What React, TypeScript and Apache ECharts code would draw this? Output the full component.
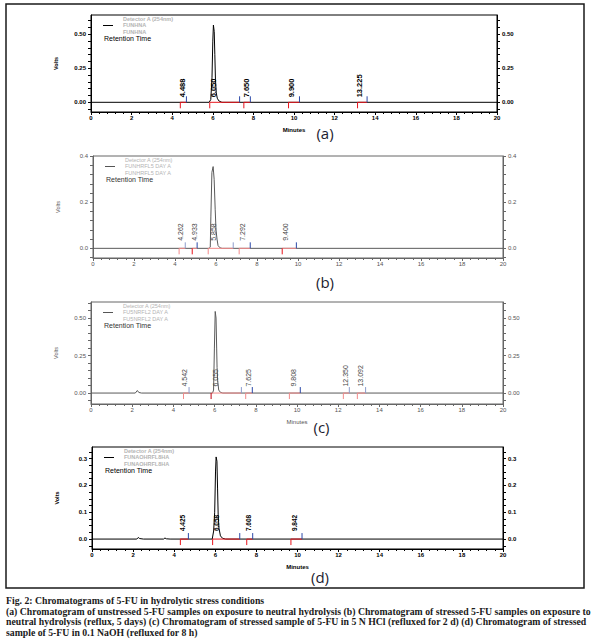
import React, { useEffect, useRef } from "react";
import * as echarts from "echarts";

// ---------------- Panel (a): unstressed, neutral hydrolysis ----------------
const A_TIME = [0, 5.82, 5.9, 5.96, 6.0, 6.03, 6.07, 6.1, 6.13, 6.17, 6.22, 6.3, 6.45, 20];
const A_SIGNAL = [0, 0, 0.02, 0.18, 0.45, 0.568, 0.52, 0.35, 0.17, 0.07, 0.03, 0.01, 0, 0];
const A_PEAK_RT = [4.488, 6.05, 7.65, 9.9, 13.225];
const A_PEAK_LABEL = ["4.488", "6.050", "7.650", "9.900", "13.225"];
const A_PEAK_START = [4.4, 5.85, 7.53, 9.73, 13.13];
const A_PEAK_END = [4.7, 7.32, 7.85, 10.27, 13.6];
const A_Y_LABELS = [0, 0.25, 0.5];
const A_Y_TICKS = [-0.05, 0, 0.05, 0.1, 0.15, 0.2, 0.25, 0.3, 0.35, 0.4, 0.45, 0.5, 0.55, 0.6];
const A_LEGEND = ["Detector A (254nm)", "FUNHNA", "FUNHNA"];

// ---------------- Panel (b): neutral hydrolysis, reflux 5 days ----------------
const B_TIME = [0, 5.66, 5.72, 5.75, 5.8, 5.86, 5.91, 5.96, 6.0, 6.05, 6.1, 6.2, 6.3, 20];
const B_SIGNAL = [0, 0, 0.005, 0.14, 0.33, 0.355, 0.3, 0.17, 0.08, 0.04, 0.012, 0.002, 0, 0];
const B_PEAK_RT = [4.262, 4.933, 5.858, 7.292, 9.4];
const B_PEAK_LABEL = ["4.262", "4.933", "5.858", "7.292", "9.400"];
const B_PEAK_START = [4.2, 4.84, 5.62, 7.13, 9.23];
const B_PEAK_END = [4.5, 5.08, 6.84, 7.67, 9.92];
const B_Y_LABELS = [0, 0.2, 0.4];
const B_Y_TICKS = [-0.04, 0, 0.04, 0.08, 0.12, 0.16, 0.2, 0.24, 0.28, 0.32, 0.36, 0.4];
const B_LEGEND = ["Detector A (254nm)", "FUNHRFL5 DAY A", "FUNHRFL5 DAY A"];

// ---------------- Panel (c): 5 N HCl, refluxed 2 d ----------------
const C_TIME = [0, 2.15, 2.25, 2.32, 2.45, 5.9, 5.95, 5.99, 6.03, 6.07, 6.1, 6.12, 6.15, 6.2, 6.28, 6.4, 20];
const C_SIGNAL = [0, 0, 0.017, 0.004, 0, 0, 0.02, 0.3, 0.544, 0.5, 0.3, 0.17, 0.08, 0.02, 0.005, 0, 0];
const C_PEAK_RT = [4.542, 6.055, 7.625, 9.808, 12.35, 13.092];
const C_PEAK_LABEL = ["4.542", "6.055", "7.625", "9.808", "12.350", "13.092"];
const C_PEAK_START = [4.49, 5.83, 7.51, 9.63, 12.25, 12.93];
const C_PEAK_END = [4.76, 7.3, 7.83, 10.16, 12.54, 13.33];
const C_Y_LABELS = [0, 0.25, 0.5];
const C_Y_TICKS = [-0.05, 0, 0.05, 0.1, 0.15, 0.2, 0.25, 0.3, 0.35, 0.4, 0.45, 0.5, 0.55, 0.6];
const C_LEGEND = ["Detector A (254nm)", "FU5NRFL2 DAY A", "FU5NRFL2 DAY A"];

// ---------------- Panel (d): 0.1 NaOH, refluxed 8 h ----------------
const D_TIME = [0, 2.18, 2.25, 2.32, 2.5, 3.48, 3.55, 3.62, 3.8, 5.85, 5.92, 5.97, 6.01, 6.04, 6.08, 6.11, 6.14, 6.18, 6.25, 6.35, 6.5, 20];
const D_SIGNAL = [0, 0, 0.006, 0.002, 0, 0, 0.004, 0.001, 0, 0, 0.03, 0.1, 0.25, 0.306, 0.29, 0.19, 0.09, 0.04, 0.012, 0.003, 0, 0];
const D_PEAK_RT = [4.425, 6.058, 7.608, 9.842];
const D_PEAK_LABEL = ["4.425", "6.058", "7.608", "9.842"];
const D_PEAK_START = [4.3, 5.87, 7.53, 9.68];
const D_PEAK_END = [4.69, 7.19, 7.82, 10.22];
const D_Y_LABELS = [0, 0.1, 0.2, 0.3];
const D_Y_TICKS = [-0.025, 0, 0.025, 0.05, 0.075, 0.1, 0.125, 0.15, 0.175, 0.2, 0.225, 0.25, 0.275, 0.3, 0.325];
const D_LEGEND = ["Detector A (254nm)", "FUNAOHRFL8HA", "FUNAOHRFL8HA"];

const CAPTION = [
  "Fig. 2: Chromatograms of 5-FU in hydrolytic stress conditions",
  "(a) Chromatogram of unstressed 5-FU samples on exposure to neutral hydrolysis (b) Chromatogram of stressed 5-FU samples on exposure to",
  "neutral hydrolysis (reflux, 5 days) (c) Chromatogram of stressed sample of 5-FU in 5 N HCl (refluxed for 2 d) (d) Chromatogram of stressed",
  "sample of 5-FU in 0.1 NaOH (refluxed for 8 h)",
];

const RED = "#e8141c";
const PINK = "#f28a8a";
const DARKRED = "#c00010";
const BLUE = "#2a48a8";
const LIGHTBLUE = "#8c9ccc";

const PANELS = [
  {
    time: A_TIME, signal: A_SIGNAL, rt: A_PEAK_RT, labels: A_PEAK_LABEL, start: A_PEAK_START, end: A_PEAK_END,
    yLabels: A_Y_LABELS, yTicks: A_Y_TICKS, yMin: -0.0713, yMax: 0.642, decimals: 2, legend: A_LEGEND,
    minutes: true, tag: "(a)",
    layout: { left: 91, top: 15, width: 406, height: 97, tagX: 325, tagY: 133 },
    style: {
      ink: "#000", trace: "#000", axisText: "#000", bold: true, labelGap: 5, labelSize: 7.5, labelColor: "#000",
      base: RED, startColors: [RED, RED, RED, RED, RED], endColors: [BLUE, BLUE, BLUE, BLUE, BLUE],
    },
  },
  {
    time: B_TIME, signal: B_SIGNAL, rt: B_PEAK_RT, labels: B_PEAK_LABEL, start: B_PEAK_START, end: B_PEAK_END,
    yLabels: B_Y_LABELS, yTicks: B_Y_TICKS, yMin: -0.042, yMax: 0.401, decimals: 1, legend: B_LEGEND,
    minutes: false, tag: "(b)",
    layout: { left: 93, top: 156, width: 410, height: 102, tagX: 325, tagY: 282 },
    style: {
      ink: "#666", trace: "#5a5a5a", axisText: "#555", bold: false, labelGap: 7.5, labelSize: 7, labelColor: "#444",
      base: PINK, startColors: [PINK, RED, PINK, PINK, RED], endColors: [LIGHTBLUE, BLUE, LIGHTBLUE, BLUE, BLUE],
    },
  },
  {
    time: C_TIME, signal: C_SIGNAL, rt: C_PEAK_RT, labels: C_PEAK_LABEL, start: C_PEAK_START, end: C_PEAK_END,
    yLabels: C_Y_LABELS, yTicks: C_Y_TICKS, yMin: -0.073, yMax: 0.607, decimals: 2, legend: C_LEGEND,
    minutes: true, tag: "(c)",
    layout: { left: 91, top: 302, width: 412, height: 102, tagX: 321.5, tagY: 427 },
    style: {
      ink: "#666", trace: "#5a5a5a", axisText: "#555", bold: false, labelGap: 6.5, labelSize: 7, labelColor: "#444",
      base: PINK, startColors: [PINK, DARKRED, PINK, PINK, PINK, PINK],
      endColors: [LIGHTBLUE, LIGHTBLUE, BLUE, BLUE, LIGHTBLUE, LIGHTBLUE],
    },
  },
  {
    time: D_TIME, signal: D_SIGNAL, rt: D_PEAK_RT, labels: D_PEAK_LABEL, start: D_PEAK_START, end: D_PEAK_END,
    yLabels: D_Y_LABELS, yTicks: D_Y_TICKS, yMin: -0.037, yMax: 0.343, decimals: 1, legend: D_LEGEND,
    minutes: true, tag: "(d)",
    layout: { left: 92, top: 447, width: 411, height: 102, tagX: 320, tagY: 577 },
    style: {
      ink: "#000", trace: "#000", axisText: "#000", bold: true, labelGap: 8, labelSize: 6.5, labelColor: "#000",
      base: RED, startColors: [RED, RED, RED, RED], endColors: [BLUE, BLUE, BLUE, BLUE],
    },
  },
];

function buildOption() {
  const grids: any[] = [];
  const xAxes: any[] = [];
  const yAxes: any[] = [];
  const series: any[] = [];
  const graphics: any[] = [];

  PANELS.forEach((p, i) => {
    const L = p.layout;
    const S = p.style;
    const axisFont = {
      fontSize: 6,
      fontFamily: "Liberation Sans",
      fontWeight: S.bold ? "bold" : "normal",
      color: S.axisText,
    };
    grids.push({
      left: L.left, top: L.top, width: L.width, height: L.height,
      show: true, borderColor: S.ink, borderWidth: 1, backgroundColor: "transparent",
      containLabel: false, outerBoundsMode: "none",
    });
    xAxes.push({
      type: "value", gridIndex: i, min: 0, max: 20, interval: 2, position: "bottom",
      axisLine: { show: true, onZero: false, lineStyle: { color: S.ink, width: 1 } },
      axisTick: { show: true, inside: false, length: 3, lineStyle: { color: S.ink } },
      minorTick: { show: true, splitNumber: 5, length: 2, lineStyle: { color: S.ink } },
      axisLabel: { ...axisFont, margin: 3 },
      splitLine: { show: false },
      minorSplitLine: { show: false },
      name: p.minutes ? "Minutes" : "",
      nameLocation: "middle",
      nameGap: 15,
      nameTextStyle: { ...axisFont },
    });
    const yBase = (pos: string) => ({
      type: "value", gridIndex: i, min: p.yMin, max: p.yMax, position: pos,
      axisLine: { show: true, onZero: false, lineStyle: { color: S.ink, width: 1 } },
      axisTick: { show: true, inside: false, length: 3, customValues: p.yTicks, lineStyle: { color: S.ink } },
      axisLabel: {
        ...axisFont, margin: 5, customValues: p.yLabels,
        formatter: (v: number) => Number(v).toFixed(p.decimals),
      },
      splitLine: { show: false },
    });
    yAxes.push({
      ...yBase("left"),
      name: "Volts", nameLocation: "middle", nameGap: 32,
      nameTextStyle: { fontSize: 5.5, fontFamily: "Liberation Sans", fontWeight: S.bold ? "bold" : "normal", color: S.axisText },
    });
    yAxes.push(yBase("right"));

    series.push({
      type: "line", xAxisIndex: i, yAxisIndex: 2 * i,
      data: p.time.map((t, k) => [t, p.signal[k]]),
      showSymbol: false, symbol: "none", silent: true, z: 3,
      lineStyle: { color: S.trace, width: 1 },
    });

    series.push({
      type: "custom", xAxisIndex: i, yAxisIndex: 2 * i, coordinateSystem: "cartesian2d",
      clip: false, silent: true, z: 4,
      data: p.rt.map((rt, k) => [rt, p.start[k], p.end[k]]),
      renderItem: (params: any, api: any) => {
        const k = params.dataIndex;
        const pr = api.coord([api.value(0), 0]);
        const ps = api.coord([api.value(1), 0]);
        const pe = api.coord([api.value(2), 0]);
        const y0 = ps[1];
        return {
          type: "group",
          children: [
            { type: "line", shape: { x1: ps[0], y1: y0, x2: pe[0], y2: y0 }, style: { stroke: S.base, lineWidth: 1 } },
            { type: "line", shape: { x1: ps[0], y1: y0, x2: ps[0], y2: y0 + 6 }, style: { stroke: S.startColors[k], lineWidth: 1 } },
            { type: "line", shape: { x1: pe[0], y1: y0, x2: pe[0], y2: y0 - 6 }, style: { stroke: S.endColors[k], lineWidth: 1 } },
            {
              type: "text", x: pr[0], y: y0 - S.labelGap, rotation: Math.PI / 2,
              style: {
                text: p.labels[k], fill: S.labelColor,
                fontSize: S.labelSize, fontFamily: "Liberation Sans", fontWeight: S.bold ? "bold" : "normal",
                align: "left", verticalAlign: "middle", textAlign: "left", textVerticalAlign: "middle",
              },
            },
          ],
        };
      },
    });

    // legend block
    graphics.push({
      type: "line", silent: true,
      shape: { x1: L.left + 12, y1: L.top + 10.5, x2: L.left + 22, y2: L.top + 10.5 },
      style: { stroke: S.bold ? "#000" : "#555", lineWidth: 1 },
    });
    p.legend.forEach((txt, r) => {
      graphics.push({
        type: "text", silent: true, x: L.left + 32, y: L.top + 4 + 6.3 * r,
        style: {
          text: txt, fill: "#b4b4b4", fontSize: 5.5, fontFamily: "Liberation Sans",
          fontWeight: S.bold ? "bold" : "normal",
          align: "left", verticalAlign: "middle", textAlign: "left", textVerticalAlign: "middle",
        },
      });
    });
    graphics.push({
      type: "text", silent: true, x: L.left + 13, y: L.top + 23,
      style: {
        text: "Retention Time", fill: S.bold ? "#000" : "#333", fontSize: 7, fontFamily: "Liberation Sans",
        align: "left", verticalAlign: "middle", textAlign: "left", textVerticalAlign: "middle",
      },
    });
    graphics.push({
      type: "text", silent: true, x: L.tagX, y: L.tagY,
      style: {
        text: p.tag, fill: "#1c1c30", fontSize: 15, fontFamily: "Open Sans",
        align: "center", verticalAlign: "middle", textAlign: "center", textVerticalAlign: "middle",
      },
    });
  });

  // outer frame
  graphics.push({
    type: "rect", silent: true,
    shape: { x: 6, y: 4, width: 578, height: 584 },
    style: { fill: "none", stroke: "#1a1a1a", lineWidth: 1.5 },
  });

  const capY = [600, 611, 621.5, 632];
  CAPTION.forEach((line, r) => {
    graphics.push({
      type: "text", silent: true, x: 6, y: capY[r],
      style: {
        text: line, fill: "#1a1a1a", fontSize: 9.75, fontFamily: "Liberation Serif", fontWeight: "bold",
        align: "left", verticalAlign: "middle", textAlign: "left", textVerticalAlign: "middle",
      },
    });
  });

  return {
    animation: false,
    backgroundColor: "#ffffff",
    textStyle: { fontFamily: "Liberation Sans" },
    grid: grids,
    xAxis: xAxes,
    yAxis: yAxes,
    series,
    graphic: { elements: graphics },
  };
}

export default function App() {
  const ref = useRef<HTMLDivElement | null>(null);
  useEffect(() => {
    if (!ref.current) return;
    const chart = echarts.init(ref.current, null, { renderer: "svg" });
    chart.setOption(buildOption() as any);
    return () => chart.dispose();
  }, []);
  return (
    <div
      ref={ref}
      style={{ position: "absolute", left: 0, top: 0, width: 615, height: 643, background: "#fff" }}
    />
  );
}
